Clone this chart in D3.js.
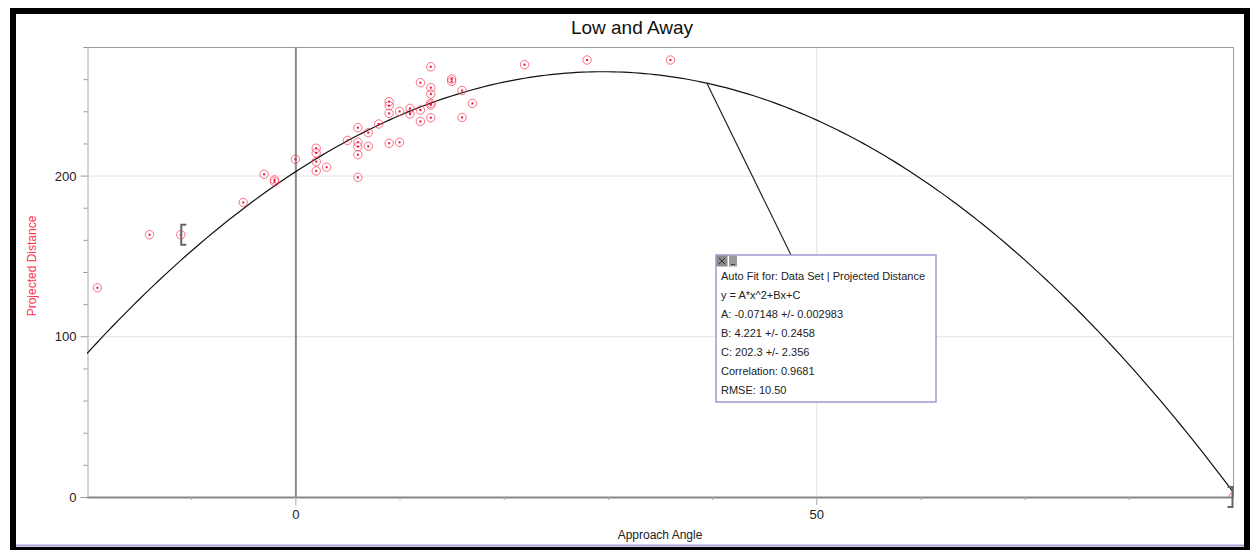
<!DOCTYPE html>
<html lang="en">
<head>
    <meta charset="UTF-8">
    <title>Low and Away</title>
    <script src="https://d3js.org/d3.v7.min.js"></script>
    <style>
        body { margin: 0; background: #fff; }
        svg { display: block; font-family: "Liberation Sans", Arial, sans-serif; }
    </style>
</head>
<body>
    <svg width="1251" height="550"></svg>

    <script>
        // Data
        const angles    = [-19, -14, -11, -5, -3, -2, -2, 0, 2, 2, 2, 2, 3, 5, 6, 6, 6, 6, 6, 7, 7, 8,
                           9, 9, 9, 9, 10, 10, 11, 11, 12, 12, 12, 13, 13, 13, 13, 13, 13, 15, 15,
                           16, 16, 17, 22, 28, 36, 90];
        const distances = [130.2, 163.2, 163.2, 183.3, 200.8, 197.3, 196.1, 210.1, 217, 214.1, 208.7, 202.9,
                           205.2, 221.9, 229.8, 220.7, 218, 213, 198.9, 226.7, 218.2, 232.1,
                           246, 243.5, 238.7, 220.1, 239.9, 220.7, 241.8, 238.3, 257.8, 240.8, 233.7,
                           267.7, 254.7, 250.7, 244.9, 243.9, 236, 260.1, 258.6,
                           252.9, 236.2, 244.9, 269, 271.9, 271.9, 0];

        // Fit coefficients shown in the auto fit box
        const fitA = -0.07148, fitB = 4.221, fitC = 202.3;
        const fitLines = ["Auto Fit for: Data Set | Projected Distance",
                          "y = A*x^2+Bx+C",
                          "A: -0.07148 +/- 0.002983",
                          "B: 4.221 +/- 0.2458",
                          "C: 202.3 +/- 2.356",
                          "Correlation: 0.9681",
                          "RMSE: 10.50"];
        const fitRange = [-11, 90];

        const xLabelTicks = [0, 50];
        const yLabelTicks = [0, 100, 200];

        const svg = d3.select("svg");
        const pointColor = "#ff3355";

        // Scales
        const x = d3.scaleLinear().domain([-20, 90]).range([87, 1233]);
        const y = d3.scaleLinear().domain([0, 280]).range([497, 47]);
        const fit = a => fitA * a * a + fitB * a + fitC;

        // Outer frame
        svg.append("rect")
           .attr("x", 13).attr("y", 11)
           .attr("width", 1234).attr("height", 539)
           .attr("fill", "none")
           .attr("stroke", "#000")
           .attr("stroke-width", 6);
        svg.append("line")
           .attr("x1", 16).attr("x2", 1244)
           .attr("y1", 545.5).attr("y2", 545.5)
           .attr("stroke", "#a4a4d6")
           .attr("stroke-width", 2);

        // Title
        svg.append("text")
           .attr("x", 632).attr("y", 27)
           .attr("text-anchor", "middle")
           .attr("dominant-baseline", "central")
           .style("font-size", "19px")
           .attr("fill", "#111")
           .text("Low and Away");

        // Clip for the plot area
        svg.append("defs").append("clipPath")
           .attr("id", "plot-clip")
           .append("rect")
           .attr("x", x.range()[0]).attr("y", y.range()[1])
           .attr("width", x.range()[1] - x.range()[0])
           .attr("height", y.range()[0] - y.range()[1]);

        // Grid lines
        svg.selectAll(".hgrid")
           .data([100, 200])
           .enter().append("line")
           .attr("x1", x.range()[0]).attr("x2", x.range()[1])
           .attr("y1", d => y(d) + 0.5).attr("y2", d => y(d) + 0.5)
           .attr("stroke", "#e2e2e2");
        svg.append("line")
           .attr("x1", x(50) + 0.5).attr("x2", x(50) + 0.5)
           .attr("y1", y.range()[1]).attr("y2", y.range()[0])
           .attr("stroke", "#e2e2e2");

        // Plot border (top, right)
        svg.append("path")
           .attr("d", `M${x.range()[0]},${y.range()[1] + 0.5}H${x.range()[1] + 0.5}V${y.range()[0]}`)
           .attr("fill", "none")
           .attr("stroke", "#9c9c9c");

        // Y axis
        const yAxis = svg.append("g")
           .attr("transform", `translate(${x.range()[0] + 0.5},0)`)
           .call(d3.axisLeft(y).tickValues(d3.range(0, 281, 20)).tickFormat(() => "").tickSize(4));
        yAxis.select(".domain").attr("stroke", "#aaa");
        yAxis.selectAll(".tick line").attr("stroke", "#999");
        yAxis.selectAll(".tick")
             .filter(d => yLabelTicks.includes(d))
             .select("line").attr("x2", -7);
        yAxis.selectAll(".tick")
             .filter(d => yLabelTicks.includes(d))
             .select("text")
             .attr("x", -11)
             .attr("dy", "0.35em")
             .style("font-size", "13px")
             .attr("fill", "#222")
             .text(d => d);

        svg.append("text")
           .attr("transform", "translate(32,266) rotate(-90)")
           .attr("text-anchor", "middle")
           .attr("dominant-baseline", "central")
           .style("font-size", "12px")
           .attr("fill", pointColor)
           .text("Projected Distance");

        // Vertical zero line
        svg.append("line")
           .attr("x1", x(0) + 0.5).attr("x2", x(0) + 0.5)
           .attr("y1", y.range()[1]).attr("y2", y.range()[0])
           .attr("stroke", "#888")
           .attr("stroke-width", 2);

        const plot = svg.append("g").attr("clip-path", "url(#plot-clip)");

        // Fitted curve
        const curveAngles = d3.range(-20, 90.01, 0.5);
        plot.append("path")
            .datum(curveAngles)
            .attr("d", d3.line().x(a => x(a)).y(a => y(fit(a))))
            .attr("fill", "none")
            .attr("stroke", "#111")
            .attr("stroke-width", 1.2);

        // Data points
        const points = plot.selectAll(".pt")
            .data(angles.map((a, i) => ({ a: a, d: distances[i] })))
            .enter().append("g")
            .attr("transform", d => `translate(${x(d.a)},${y(d.d)})`);
        points.append("circle")
              .attr("r", 4.2)
              .attr("fill", "none")
              .attr("stroke", pointColor)
              .attr("stroke-opacity", 0.7);
        points.append("rect")
              .attr("x", -1).attr("y", -1)
              .attr("width", 2).attr("height", 2)
              .attr("fill", "#e0183a");

        // X axis
        const xAxis = svg.append("g")
           .attr("transform", `translate(0,${y.range()[0]})`)
           .call(d3.axisBottom(x).tickValues(d3.range(-10, 81, 10)).tickFormat(() => "").tickSize(3).tickSizeOuter(0));
        xAxis.select(".domain").attr("stroke", "#888").attr("stroke-width", 2);
        xAxis.selectAll(".tick line").attr("stroke", "#aaa");
        xAxis.selectAll(".tick")
             .filter(d => xLabelTicks.includes(d))
             .select("line").attr("y2", 8);
        xAxis.selectAll(".tick")
             .filter(d => xLabelTicks.includes(d))
             .select("text")
             .attr("y", 13)
             .attr("dy", "0.71em")
             .style("font-size", "13px")
             .attr("fill", "#222")
             .text(d => d);

        svg.append("text")
           .attr("x", 660).attr("y", 535)
           .attr("text-anchor", "middle")
           .attr("dominant-baseline", "central")
           .style("font-size", "12px")
           .attr("fill", "#222")
           .text("Approach Angle");

        // Fit range brackets
        const bracket = (a, dir) => {
            const bx = Math.min(x(a), x.range()[1]) + 0.5 * dir;
            const by = y(fit(a) > 0 ? distances[angles.indexOf(a)] : 0);
            svg.append("path")
               .attr("d", `M${bx + 5 * dir},${by - 10}H${bx}V${by + 10}H${bx + 5 * dir}`)
               .attr("fill", "none")
               .attr("stroke", "#666")
               .attr("stroke-width", 2);
        };
        bracket(fitRange[0], 1);
        bracket(fitRange[1], -1);

        // Auto fit box and its leader line
        const box = { left: 716, top: 255, width: 220, height: 147 };
        const anchorAngle = 39.5;
        svg.append("line")
           .attr("x1", x(anchorAngle)).attr("y1", y(fit(anchorAngle)))
           .attr("x2", box.left + 75).attr("y2", box.top)
           .attr("stroke", "#222")
           .attr("stroke-width", 1.2);

        const boxG = svg.append("g").attr("transform", `translate(${box.left},${box.top})`);
        boxG.append("rect")
            .attr("width", box.width).attr("height", box.height)
            .attr("fill", "#fff")
            .attr("stroke", "#9a9ad2")
            .attr("stroke-width", 1.5);
        boxG.append("rect")
            .attr("x", 0.5).attr("y", 0.5)
            .attr("width", 11).attr("height", 11)
            .attr("fill", "#8a8a8a");
        boxG.append("path")
            .attr("d", "M3,3L9,9M9,3L3,9")
            .attr("stroke", "#333")
            .attr("stroke-width", 1);
        boxG.append("rect")
            .attr("x", 13).attr("y", 0.5)
            .attr("width", 8).attr("height", 11)
            .attr("fill", "#9a9a9a");
        boxG.append("line")
            .attr("x1", 15).attr("x2", 19)
            .attr("y1", 9.5).attr("y2", 9.5)
            .attr("stroke", "#444");

        boxG.selectAll(".fitline")
            .data(fitLines)
            .enter().append("text")
            .attr("x", 5)
            .attr("y", (d, i) => 21 + i * 19)
            .attr("dominant-baseline", "central")
            .style("font-size", "11px")
            .attr("fill", "#222")
            .text(d => d);
    </script>
</body>
</html>
